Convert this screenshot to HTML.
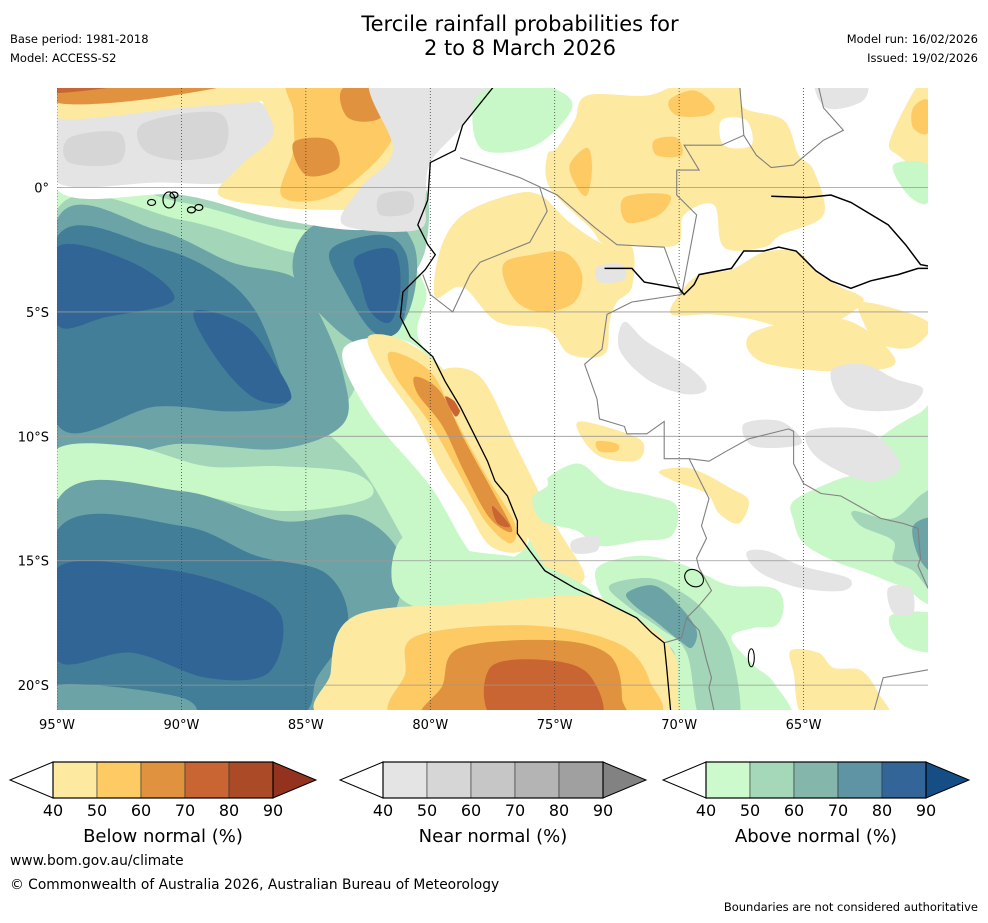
<!DOCTYPE html>
<html><head><meta charset="utf-8">
<style>
body{margin:0;background:#fff;width:988px;height:919px;overflow:hidden;font-family:"DejaVu Sans",sans-serif;}
svg text{font-family:"DejaVu Sans",sans-serif;}
</style></head>
<body>
<svg id="root" width="988" height="919" xmlns="http://www.w3.org/2000/svg">
<text x="520" y="31" font-size="21" text-anchor="middle">Tercile rainfall probabilities for</text>
<text x="520" y="55" font-size="21" text-anchor="middle">2 to 8 March 2026</text>
<text x="10" y="43" font-size="11.5">Base period: 1981-2018</text>
<text x="10" y="62" font-size="11.5">Model: ACCESS-S2</text>
<text x="978" y="43" font-size="11.5" text-anchor="end">Model run: 16/02/2026</text>
<text x="978" y="62" font-size="11.5" text-anchor="end">Issued: 19/02/2026</text>
<defs><clipPath id="mapclip"><rect x="57" y="88" width="871" height="622"/></clipPath></defs>
<g id="map" clip-path="url(#mapclip)"></g>
<g id="axes"></g>
<g id="bars"></g>
<text x="10" y="865" font-size="13.8">www.bom.gov.au/climate</text>
<text x="10" y="889" font-size="13.8">© Commonwealth of Australia 2026, Australian Bureau of Meteorology</text>
<text x="978" y="911" font-size="11.5" text-anchor="end">Boundaries are not considered authoritative</text>
</svg>
<script>
const lonTicks=[-95,-90,-85,-80,-75,-70,-65];
const latTicks=[0,-5,-10,-15,-20];
const barTicks=[40,50,60,70,80,90];
const belowColors=["#fee9a0","#fdca63","#e0923f","#c96532","#ab4a27","#93321e"];
const nearColors=["#e4e4e4","#d6d6d6","#c6c6c6","#b4b4b4","#a0a0a0","#828282"];
const aboveColors=["#ccfacc","#a5d8b9","#84b6ac","#5e94a3","#336598","#154d85"];
const barTitles=["Below normal (%)","Near normal (%)","Above normal (%)"];
const C={y1:"#fee9a0",y2:"#fdca63",y3:"#e0923f",y4:"#c96532",g1:"#e4e4e4",g2:"#d6d6d6",a1:"#c8f7c8",a2:"#a3d5b8",a3:"#6ca3a6",a4:"#427e98",a5:"#306596",w:"#ffffff"};
// regions: [colorKey, [[lon,lat],...]]
const regions=[
["a2",[[-95,0],[-88,-0.4],[-84,-1.3],[-81.6,0.3],[-80.2,0],[-80.2,-2.5],[-81.2,-4.5],[-81.1,-6],[-79.7,-7.3],[-78.3,-10],[-76.5,-13.5],[-74,-16],[-70.4,-18.4],[-70.2,-21.5],[-95,-21.5]]],
["a1",[[-95,-0.2],[-90,-0.6],[-86,-1.6],[-82,-2],[-80.2,-4],[-80.5,-6],[-79,-8],[-78,-11],[-76,-14],[-74,-16],[-79,-16.8],[-83,-11],[-86,-9.5],[-95,-9.5]]],
["a2",[[-95,-0.9],[-90,-1.3],[-86,-2.5],[-84,-3],[-82.7,-5],[-82.8,-7.5],[-85,-9.3],[-95,-10]]],
["a3",[[-95,-1.3],[-91,-1.7],[-88,-3],[-85.5,-3.6],[-84.5,-5],[-83.5,-7.5],[-83.5,-9.5],[-86,-10.5],[-90,-10.3],[-95,-10.5]]],
["a4",[[-95,-2],[-91,-2.4],[-88.5,-3.5],[-87,-5],[-86,-7.5],[-85.8,-8.7],[-88,-9],[-91,-8.8],[-95,-9.5]]],
["a5",[[-95,-2.4],[-92,-3],[-90.3,-4.5],[-93,-5.2],[-95,-5.5]]],
["a5",[[-89.5,-5],[-87.5,-5.5],[-86.3,-7],[-85.6,-8.5],[-87,-8.5],[-88.5,-7]]],
["a3",[[-84.8,-1.6],[-82,-1],[-80.7,-2.2],[-80.6,-4],[-81.2,-5.6],[-82.5,-6.4],[-84,-5.5],[-85.5,-3.5]]],
["a4",[[-84,-2.5],[-82,-1.9],[-81,-2.6],[-80.9,-4.3],[-81.3,-5.8],[-82.3,-5.8],[-83.5,-4]]],
["a5",[[-83,-2.8],[-81.5,-2.5],[-81.2,-4],[-81.6,-5.4],[-82.4,-5],[-82.8,-3.8]]],
["a1",[[-95,-10.5],[-92,-10.4],[-89,-11.2],[-86,-11.2],[-83,-11.5],[-82.5,-12.5],[-86,-13],[-90,-12.3],[-95,-12.5]]],
["a3",[[-95,-12.6],[-90,-12.2],[-86,-13.4],[-83,-13.2],[-81.2,-14.8],[-81.5,-17.3],[-83,-19.3],[-84.5,-21.5],[-95,-21.5]]],
["a4",[[-95,-13.8],[-90,-13.6],[-87,-14.8],[-84.2,-15.5],[-83.3,-17.5],[-84.5,-19.6],[-86,-21.5],[-95,-21.5]]],
["a5",[[-95,-15.3],[-91,-15.3],[-88,-16],[-86,-17.2],[-86.5,-19.5],[-89,-19.7],[-92,-18.7],[-95,-19]]],
["a3",[[-95,-20],[-90,-20.5],[-90,-21.5],[-95,-21.5]]],
// top band
["w",[[-95,4.5],[-80,4.5],[-80.2,0.5],[-82,-1.6],[-86,-1.3],[-90,-0.3],[-95,-0.1]]],
["g1",[[-95,2.8],[-90,3.3],[-87,3.5],[-86.3,2],[-87.8,0.3],[-91,0.2],[-95,0.2]]],
["g2",[[-94.5,2],[-92.5,2.2],[-92.5,1],[-94.5,1]]],
["g2",[[-91.5,2.6],[-88.5,3],[-88.3,1.5],[-90,1.1],[-91.5,1.5]]],
["y1",[[-95,4.5],[-84,4.5],[-86,3.6],[-90,3.2],[-95,2.8]]],
["y3",[[-95,4.5],[-87,4.5],[-91,3.6],[-95,3.4]]],
["y4",[[-95,4.5],[-90,4.5],[-95,3.8]]],
["y1",[[-86.5,4.5],[-80,4.5],[-80.5,1],[-81.5,-0.8],[-83.5,-0.9],[-86,-0.8],[-88.5,-0.3],[-87.5,1],[-86.3,2.2]]],
["y2",[[-85.5,4.5],[-81,4.5],[-81.5,2],[-83,0.3],[-84.5,-0.5],[-86,-0.3],[-85.5,1.5],[-85.5,3]]],
["y3",[[-83.5,4],[-81.6,4.1],[-82,2.8],[-83.3,2.8]]],
["y3",[[-85.5,1.8],[-84,1.9],[-83.7,0.8],[-85,0.5]]],
["g1",[[-82.3,4.5],[-77.3,4.5],[-78.7,2.5],[-80,1],[-80.2,-0.5],[-80.5,-1.7],[-83.5,-1.5],[-82.8,0],[-81.5,1.5]]],
["g2",[[-82,-0.3],[-80.8,-0.2],[-80.8,-1],[-82,-1.1]]],
// coastal below-normal band
["w",[[-83.5,-6.5],[-81.2,-6.1],[-79.5,-7.5],[-78,-10.5],[-76,-14],[-78,-15],[-80,-12],[-82.5,-9]]],
["y1",[[-82.5,-6],[-81.2,-6.1],[-79.6,-7.2],[-78.8,-8.8],[-78.1,-10],[-77.2,-11.8],[-76.2,-13.5],[-76.3,-14.6],[-77.6,-14.4],[-78.6,-12.8],[-79.6,-11.3],[-80.6,-9.3],[-82,-7.3]]],
["y2",[[-81.6,-6.6],[-80,-7.4],[-79,-9.3],[-77.8,-11.5],[-76.6,-13.5],[-76.8,-14.3],[-77.8,-13.4],[-78.8,-11.6],[-80,-9.5],[-81.4,-7.6]]],
["y3",[[-80.6,-7.6],[-79.6,-8.2],[-78.6,-10.2],[-77.5,-12.2],[-76.7,-13.8],[-77.6,-13.3],[-78.6,-11.5],[-79.5,-9.6],[-80.5,-8.3]]],
["y4",[[-79.4,-8.4],[-78.8,-8.8],[-79,-9.2]]],
["y4",[[-77.5,-12.8],[-76.8,-13.6],[-77.3,-13.5]]],
["y1",[[-79.6,-7.4],[-78,-7.6],[-76.5,-10.5],[-75,-13.5],[-73.8,-15.6],[-74.8,-15.9],[-76,-14.2],[-77.1,-12],[-78.2,-10],[-78.9,-8.8]]],
["a1",[[-81,-14],[-78.5,-14.6],[-76,-15],[-73.5,-16.3],[-76,-16.8],[-80,-17],[-81.5,-16]]],
["y1",[[-83,-17.2],[-78,-16.7],[-74,-16.4],[-72,-16.9],[-70.4,-18.4],[-70.2,-21.5],[-83.5,-21.5],[-84,-19.5]]],
["y2",[[-80.5,-18],[-76,-17.6],[-72.5,-18.3],[-71.2,-19.8],[-71.5,-21.5],[-81,-21.5],[-81,-19.5]]],
["y3",[[-78.8,-18.5],[-75,-18.2],[-72.8,-18.8],[-72.3,-20.5],[-72.8,-21.5],[-80,-21.5],[-79.5,-20]]],
["y4",[[-77.6,-19.3],[-75.3,-19],[-73.6,-19.6],[-73.3,-21.5],[-77.3,-21.5]]],
// land north
["a1",[[-78.1,3.7],[-76,4.2],[-74.4,3.6],[-74.6,2.7],[-76,1.6],[-78,1.6]]],
["y1",[[-73.7,3.7],[-71.3,3.7],[-69.8,4.2],[-67.7,4.2],[-67.4,3.2],[-65.8,2.7],[-65.2,1.3],[-64.6,0.7],[-64.2,-1.1],[-65.9,-1.9],[-66.6,-2.4],[-68.2,-2.4],[-68.6,-0.7],[-69.8,-1.1],[-70.1,-2.3],[-71.9,-2.3],[-73,-2.3],[-73.6,-1.6],[-75.2,0],[-75.3,1.3],[-74.9,1.6],[-74.2,2.7]]],
["w",[[-68.3,2.7],[-67.3,2.7],[-67.1,1.7],[-68.2,1.7]]],
["y1",[[-78.7,-1.1],[-76.8,-0.3],[-75.6,-0.3],[-74.4,-1.4],[-73,-2.3],[-71.9,-2.4],[-71.9,-4],[-72.5,-4.6],[-72.8,-5.4],[-73,-6.7],[-74.4,-6.7],[-75.3,-5.7],[-77.3,-5.4],[-78.7,-4],[-79.8,-4.4],[-79.6,-2.5]]],
["y2",[[-77,-3],[-75.9,-2.7],[-74.6,-2.6],[-73.9,-3.5],[-74.2,-4.6],[-75.4,-5],[-76.4,-4.7],[-77,-3.8]]],
["y2",[[-72.2,-0.4],[-70.4,-0.3],[-70.8,-1.1],[-72.1,-1.4]]],
["y2",[[-71,1.9],[-70.1,2],[-69.9,1.3],[-70.9,1.3]]],
["y2",[[-70.4,3.5],[-69.4,3.9],[-68.6,3.3],[-68.9,2.9],[-70.1,2.9]]],
["y2",[[-74.4,0.9],[-73.7,1.6],[-73.5,0.8],[-73.7,-0.3],[-74.1,0]]],
["y1",[[-69.2,-3.5],[-67.9,-3.3],[-66.6,-2.6],[-65.2,-2.6],[-64.5,-3.4],[-63.5,-4],[-62.6,-4.6],[-64.3,-5.7],[-65.5,-5.7],[-67.1,-5.3],[-68.7,-5.1],[-70.3,-5.1],[-70,-4.3]]],
["y1",[[-67,-5.8],[-63.4,-5.3],[-61.3,-7],[-63.4,-7.4],[-66.7,-7]]],
["y1",[[-62.6,-4.6],[-60,-5.4],[-60.6,-6.4],[-61.9,-6.3],[-62.6,-5.4]]],
["y1",[[-61.5,2],[-60,4.5],[-60,0.9],[-61.2,1.3]]],
["y2",[[-60.6,3.2],[-60,3.5],[-60,2.2],[-60.6,2.4]]],
["a1",[[-61.4,0.9],[-60,0.9],[-60,-0.6],[-60.8,-0.3]]],
["g1",[[-64.5,4.5],[-62.6,4.5],[-62.6,3.5],[-64.1,3.2]]],
["g1",[[-72.2,-5.4],[-71.3,-6.2],[-69.5,-7.3],[-68.9,-8.1],[-69.8,-8.3],[-71.3,-7.7],[-72.4,-6.5]]],
["g1",[[-63.9,-7.4],[-62.6,-7.1],[-61.3,-7.7],[-60.2,-8.1],[-61,-8.9],[-63.2,-8.8]]],
["g1",[[-73.3,-3.2],[-72.3,-3.1],[-72.2,-3.7],[-73.2,-3.8]]],
// land south
["y1",[[-73.9,-9.4],[-71.8,-10],[-71.4,-10.5],[-71.8,-11],[-73.2,-10.8],[-74,-9.9]]],
["y2",[[-73.3,-10.2],[-72.5,-10.3],[-72.5,-10.6],[-73.2,-10.6]]],
["a1",[[-75.2,-11.6],[-74,-11.1],[-72.8,-12],[-71.1,-12.4],[-70.1,-12.8],[-70.3,-14],[-71.6,-14.2],[-73.2,-14.4],[-74.1,-13.8],[-75.5,-13.4],[-75.9,-12.5],[-75.3,-12]]],
["y1",[[-70.8,-11.4],[-69.5,-11.3],[-67.9,-12.1],[-67.2,-12.6],[-67.6,-13.5],[-68.4,-13.1],[-68.9,-12.3],[-70.2,-11.8]]],
["a1",[[-73.2,-15.2],[-71.6,-14.8],[-70,-15.1],[-68.9,-15.6],[-67.9,-16],[-66.2,-16.1],[-65.8,-16.8],[-66.1,-17.6],[-67,-17.7],[-67.9,-18.1],[-67,-19.2],[-66.2,-19.9],[-65.6,-21.5],[-69.6,-21.5],[-70.2,-18.7],[-71.6,-17.4],[-72.8,-16.8],[-73.3,-16]]],
["a2",[[-72.8,-16],[-71.2,-15.7],[-70,-16.2],[-68.9,-17.1],[-67.9,-18.7],[-67.6,-21.5],[-69.1,-21.5],[-69.7,-18.7],[-70.8,-17.7],[-72.1,-16.8]]],
["a3",[[-72.1,-16.3],[-71,-16],[-70,-16.8],[-69.3,-17.8],[-69.5,-18.5],[-70,-18.2],[-71,-17.4],[-71.8,-16.8]]],
["a1",[[-65.4,-12.6],[-63.8,-11.8],[-62.4,-11.3],[-62.2,-10.3],[-60.4,-9.1],[-59.5,-9.1],[-59.5,-16.3],[-61.1,-16],[-62.4,-15.5],[-63.8,-15],[-65,-14.3],[-65.4,-13.4]]],
["a2",[[-63,-13],[-61.4,-13.3],[-60.2,-12.3],[-59.5,-12.3],[-59.5,-16.3],[-60.6,-15.4],[-61.4,-15],[-61.4,-14.2],[-62.7,-13.6]]],
["a3",[[-60.6,-13.6],[-59.5,-13.4],[-59.5,-15.5],[-60.3,-15]]],
["a1",[[-61.5,-17.2],[-59.5,-17.2],[-59.5,-18.6],[-61,-18.4]]],
["y1",[[-65.5,-18.6],[-64.4,-18.7],[-63.8,-19.3],[-62.7,-19.4],[-62,-20.3],[-61.6,-21.5],[-64.8,-21.5],[-65.4,-19.5]]],
["g1",[[-67.3,-14.7],[-66.5,-14.6],[-65.1,-15.2],[-63.2,-15.7],[-63.4,-16.2],[-65.1,-16.1],[-66.7,-15.5]]],
["g1",[[-61.6,-16.1],[-60.7,-16.1],[-60.6,-17.1],[-61.4,-17.1]]],
["g1",[[-67.4,-9.5],[-65.9,-9.4],[-65.1,-10.3],[-67,-10.4]]],
["g1",[[-64.8,-9.8],[-62.4,-9.8],[-61.1,-11.2],[-62.4,-11.8],[-64.4,-10.9]]],
["g1",[[-74.3,-14.2],[-73.3,-14],[-73.3,-14.6],[-74.2,-14.7]]]
];
const coast=[[-77.1,4.5],[-78.7,2.5],[-79,1.5],[-80,1],[-80.1,-0.5],[-80.5,-1.5],[-80.1,-2.3],[-79.8,-2.7],[-80.2,-3.3],[-81.1,-4.2],[-81.2,-5.2],[-80.8,-6],[-79.9,-6.8],[-79.4,-7.8],[-78.8,-8.8],[-78.2,-10],[-77.7,-11],[-77.4,-11.8],[-76.9,-12.4],[-76.5,-13.4],[-76.5,-13.9],[-76,-14.6],[-75.4,-15.4],[-74.2,-16.1],[-73.1,-16.6],[-71.7,-17.3],[-71.1,-17.9],[-70.6,-18.3],[-70.5,-19.3],[-70.3,-21.5]];
const rivers=[
[[-73,-3.25],[-71.9,-3.25],[-71.4,-3.8],[-70,-4.05],[-69.8,-4.3],[-69.4,-3.9],[-69.2,-3.5],[-67.9,-3.25],[-67.4,-2.55],[-66.6,-2.55],[-66,-2.4],[-65.3,-2.55],[-64.5,-3.35],[-63.9,-3.75],[-63.1,-4.05],[-62.3,-3.75],[-61.2,-3.5],[-60.4,-3.25],[-59.5,-3.25]],
[[-66.3,-0.35],[-64.9,-0.4],[-63.9,-0.3],[-63.1,-0.6],[-61.6,-1.5],[-60.9,-2.3],[-60.3,-3.1],[-59.5,-3.25]]];
const borders=[
[[-78.8,1.2],[-76.4,0.4],[-74.9,-0.3],[-73.4,-1.6],[-72.5,-2.3],[-70.6,-2.4],[-69.9,-4.3]],
[[-75.6,0],[-75.3,-0.95],[-76,-2.2],[-78,-3],[-78.4,-3.5],[-79.1,-5],[-80,-4.3],[-80.3,-3.5]],
[[-69.9,-4.3],[-69.3,-1.1],[-70.1,-0.3],[-70.1,0.7],[-69.2,0.7],[-69.8,1.7],[-68.3,1.7],[-67.4,2.1],[-66.9,1.3],[-66.3,0.8],[-65.4,0.9],[-64.2,1.9],[-63.4,2.3],[-64.2,3.2],[-64.5,4.5]],
[[-67.4,2.1],[-67.6,4.5]],
[[-69.9,-4.3],[-71.9,-4.6],[-72.9,-5.1],[-73.1,-6.5],[-73.8,-7.1],[-73.3,-8.5],[-73.2,-9.3],[-72.2,-9.6],[-72.1,-9.9],[-71.3,-9.9],[-70.6,-9.4],[-70.6,-10.9],[-69.6,-10.9],[-68.8,-11],[-68.1,-10.6],[-67.2,-10.1],[-65.6,-9.7],[-65.4,-9.8],[-65.4,-11.1],[-65,-11.9],[-64.3,-12.3],[-63.5,-12.4],[-61.9,-13.3],[-61,-13.5],[-60.4,-13.7],[-60.3,-14.9],[-60.4,-15.2],[-60,-16.1],[-59,-16.2]],
[[-69.6,-10.9],[-68.8,-12.5],[-69.1,-13.6],[-68.9,-14.1],[-69.3,-14.9],[-69.2,-15.3],[-68.7,-16.2],[-69.2,-16.8],[-69.7,-17.3],[-69.9,-18.1],[-70.6,-18.3]],
[[-69.7,-17.3],[-69.2,-17.8],[-68.9,-19],[-68.7,-19.7],[-68.8,-20.1],[-68.5,-21.5]],
[[-62.3,-21.5],[-61.8,-19.7],[-59.5,-19.3]]
];
const islands=[[-90.5,-0.5],[-89.6,-0.9],[-91.2,-0.6],[-90.3,-0.3],[-89.3,-0.8]];

const NS="http://www.w3.org/2000/svg";
const X0=57,X1=928,Y0=88,Y1=710,LON0=-95,LON1=-60,LAT0=4,LAT1=-21;
const px=lon=>X0+(lon-LON0)/(LON1-LON0)*(X1-X0);
const py=lat=>Y0+(lat-LAT0)/(LAT1-LAT0)*(Y1-Y0);
function el(tag,attrs,parent){const e=document.createElementNS(NS,tag);for(const k in attrs)e.setAttribute(k,attrs[k]);parent.appendChild(e);return e;}
function smooth(pts){const p=pts.map(q=>[px(q[0]),py(q[1])]);const n=p.length;let d=`M${p[0][0].toFixed(1)},${p[0][1].toFixed(1)}`;
for(let i=0;i<n;i++){const a=p[(i-1+n)%n],b=p[i],c=p[(i+1)%n],e=p[(i+2)%n];
const c1=[b[0]+(c[0]-a[0])/6,b[1]+(c[1]-a[1])/6],c2=[c[0]-(e[0]-b[0])/6,c[1]-(e[1]-b[1])/6];
d+=`C${c1[0].toFixed(1)},${c1[1].toFixed(1)} ${c2[0].toFixed(1)},${c2[1].toFixed(1)} ${c[0].toFixed(1)},${c[1].toFixed(1)}`;}return d+"Z";}
const line=pts=>"M"+pts.map(q=>px(q[0]).toFixed(1)+","+py(q[1]).toFixed(1)).join("L");
const map=document.getElementById("map");
el("rect",{x:X0,y:Y0,width:X1-X0,height:Y1-Y0,fill:"#fff"},map);
regions.forEach(r=>{const p=el("path",{d:smooth(r[1]),fill:C[r[0]]},map);

});
latTicks.forEach(t=>{const l=el("line",{x1:X0,x2:X1,y1:py(t),y2:py(t),stroke:"#999",'stroke-width':0.8},map);

});
lonTicks.forEach(t=>{const l=el("line",{x1:px(t),x2:px(t),y1:Y0,y2:Y1,stroke:"#444",'stroke-width':0.8,'stroke-dasharray':'1,2'},map);

});
borders.forEach(b=>{const p=el("path",{d:line(b),fill:"none",stroke:"#808080",'stroke-width':1.1},map);

});
const cst=el("path",{d:line(coast),fill:"none",stroke:"#000",'stroke-width':1.3},map);


rivers.forEach(r=>{const p=el("path",{d:line(r),fill:"none",stroke:"#000",'stroke-width':1.5},map);

});
islands.forEach((q,i)=>{const e=el("ellipse",{cx:px(q[0]),cy:py(q[1]),rx:i==0?6:4,ry:i==0?8:3,fill:"none",stroke:"#000",'stroke-width':1.2},map);

});
const lk=el("ellipse",{cx:px(-69.4),cy:py(-15.7),rx:10,ry:8,fill:"none",stroke:"#000",'stroke-width':1.1,transform:`rotate(35 ${px(-69.4)} ${py(-15.7)})`},map);


const lp=el("ellipse",{cx:px(-67.1),cy:py(-18.9),rx:3,ry:9,fill:"none",stroke:"#000",'stroke-width':1.1},map);


const axes=document.getElementById("axes");
lonTicks.forEach(t=>{const tx=el("text",{x:px(t),y:Y1+19,'font-size':13,'text-anchor':'middle'},axes);tx.textContent=Math.abs(t)+"°W";

});
latTicks.forEach(t=>{const tx=el("text",{x:49,y:py(t)+5,'font-size':13,'text-anchor':'end'},axes);tx.textContent=t==0?"0°":Math.abs(t)+"°S";

});
const bars=document.getElementById("bars");
const starts=[10,340,663],sets=[belowColors,nearColors,aboveColors],BW=44,BY=762,BH=36,TW=43;
starts.forEach((s,k)=>{const cols=sets[k],b0=s+TW;
const g=el("g",{},bars);


const lt=el("path",{d:`M${b0},${BY}L${s},${BY+BH/2}L${b0},${BY+BH}Z`,fill:"#fff",stroke:"#000",'stroke-width':1},g);


for(let i=0;i<barTicks.length-1;i++){const r=el("rect",{x:b0+i*BW,y:BY,width:BW,height:BH,fill:cols[i],stroke:"#333",'stroke-width':0.6},g);

}
const e=b0+(barTicks.length-1)*BW;
const rt=el("path",{d:`M${e},${BY}L${e+TW},${BY+BH/2}L${e},${BY+BH}Z`,fill:cols[5],stroke:"#000",'stroke-width':1},g);


el("rect",{x:b0,y:BY,width:e-b0,height:BH,fill:"none",stroke:"#000",'stroke-width':1.2},g);
barTicks.forEach((t,i)=>{const tx=el("text",{x:b0+i*BW,y:BY+BH+18,'font-size':16,'text-anchor':'middle'},g);tx.textContent=t;

});
const tt=el("text",{x:(b0+e)/2,y:842,'font-size':18,'text-anchor':'middle'},g);tt.textContent=barTitles[k];


});
</script>
</body></html>
